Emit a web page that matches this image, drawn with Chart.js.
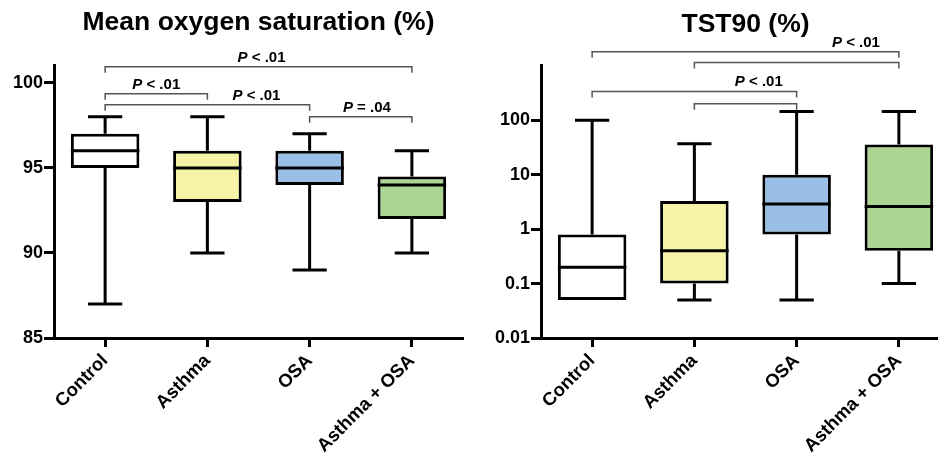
<!DOCTYPE html>
<html>
<head>
<meta charset="utf-8">
<script src="https://cdn.jsdelivr.net/npm/chart.js@4.4.1/dist/chart.umd.min.js"></script>
<style>
  html, body { margin: 0; padding: 0; background: #fff; overflow: hidden; width: 938px; height: 464px; }
  #painelEsq { position: absolute; left: 0; top: 0; width: 470px; height: 464px; }
  #painelDir { position: absolute; left: 470px; top: 0; width: 490px; height: 464px; }
</style>
</head>
<body>
<div id="painelEsq"><canvas id="graficoSaturacao"></canvas></div>
<div id="painelDir"><canvas id="graficoTst90"></canvas></div>
<script>
// ---------- DADOS ----------

var grupos = ["Control", "Asthma", "OSA", "Asthma + OSA"];

// saturação média (%)
var satMin = [87, 90, 89, 90];
var satQ1 = [95, 93, 94, 92];
var satMediana = [96, 95, 95, 94];
var satQ3 = [97, 96, 96, 94.5];
var satMax = [98, 98, 97, 96];
var satTicks = [85, 90, 95, 100];

// comparações (colchetes) do painel da esquerda
var satCompDe = [0, 0, 0, 2];
var satCompAte = [3, 1, 2, 3];
var satCompNivel = [100.95, 99.36, 98.71, 98.0];
var satCompTexto = ["< .01", "< .01", "< .01", "= .04"];

// TST90 (%)
var tstMin = [0.05, 0.05, 0.05, 0.1];
var tstQ1 = [0.05, 0.1, 0.8, 0.4];
var tstMediana = [0.2, 0.4, 2.9, 2.6];
var tstQ3 = [0.8, 3.3, 10, 36];
var tstMax = [100, 37, 144, 144];
var tstTicks = [0.01, 0.1, 1, 10, 100];

var tstCompDe = [0, 1, 0, 1];
var tstCompAte = [3, 3, 2, 2];
var tstCompNivel = [1820, 1150, 338, 200];
var tstCompTexto = ["< .01", "", "< .01", ""];

// ---------- ESTILO ----------

var FONTE = "'Liberation Sans', Arial, sans-serif";
var coresCaixa = ["#ffffff", "#f6f3a6", "#9abfe6", "#abd792"];
// posição horizontal do texto P (em unidades de categoria)
var satTextoX = [1.53, 0.5, 1.48, 2.56];
var tstTextoX = [2.58, 0, 1.63, 0];

Chart.defaults.font.family = FONTE;
Chart.defaults.color = "#000";

// ---------- PLUGIN DE BOXPLOT ----------

function criarPluginCaixas(mins, q1s, medianas, q3s, maxs, compDe, compAte, compNivel, compTexto, textoX) {
  return {
    id: "caixas",
    afterDatasetsDraw: function (chart) {
      var ctx = chart.ctx;
      var escalaX = chart.scales.x;
      var escalaY = chart.scales.y;
      var meta = chart.getDatasetMeta(0);

      ctx.save();
      ctx.strokeStyle = "#000";
      ctx.lineWidth = 3;
      ctx.lineCap = "butt";

      for (var i = 0; i < mins.length; i++) {
        var barra = meta.data[i];
        var x = barra.x;
        var largura = barra.width;
        var topo = Math.min(barra.y, barra.base);
        var fundo = Math.max(barra.y, barra.base);
        var yMin = escalaY.getPixelForValue(mins[i]);
        var yMax = escalaY.getPixelForValue(maxs[i]);
        var yMed = escalaY.getPixelForValue(medianas[i]);

        ctx.beginPath();
        if (maxs[i] > q3s[i]) {
          ctx.moveTo(x, topo);
          ctx.lineTo(x, yMax);
          ctx.moveTo(x - largura / 4, yMax);
          ctx.lineTo(x + largura / 4, yMax);
        }
        if (mins[i] < q1s[i]) {
          ctx.moveTo(x, fundo);
          ctx.lineTo(x, yMin);
          ctx.moveTo(x - largura / 4, yMin);
          ctx.lineTo(x + largura / 4, yMin);
        }
        ctx.moveTo(x - largura / 2, yMed);
        ctx.lineTo(x + largura / 2, yMed);
        ctx.stroke();
      }

      // colchetes de significância
      ctx.strokeStyle = "#555";
      ctx.lineWidth = 1.5;
      for (var j = 0; j < compDe.length; j++) {
        var x1 = escalaX.getPixelForValue(compDe[j]);
        var x2 = escalaX.getPixelForValue(compAte[j]);
        var y = escalaY.getPixelForValue(compNivel[j]);

        ctx.beginPath();
        ctx.moveTo(x1, y + 6);
        ctx.lineTo(x1, y);
        ctx.lineTo(x2, y);
        ctx.lineTo(x2, y + 6);
        ctx.stroke();

        if (compTexto[j]) {
          var xc = escalaX.getPixelForValue(0) +
            textoX[j] * (escalaX.getPixelForValue(1) - escalaX.getPixelForValue(0));
          ctx.fillStyle = "#000";
          ctx.textBaseline = "alphabetic";
          ctx.font = "italic bold 15px " + FONTE;
          var larguraP = ctx.measureText("P").width;
          ctx.font = "bold 15px " + FONTE;
          var resto = " " + compTexto[j];
          var larguraResto = ctx.measureText(resto).width;
          var inicio = xc - (larguraP + larguraResto) / 2;
          var yTexto = y - 5;
          ctx.font = "italic bold 15px " + FONTE;
          ctx.textAlign = "left";
          ctx.fillText("P", inicio, yTexto);
          ctx.font = "bold 15px " + FONTE;
          ctx.fillText(resto, inicio + larguraP, yTexto);
        }
      }
      ctx.restore();
    },
  };
}

function montarEscalaX() {
  return {
    grid: { offset: false, drawOnChartArea: false, drawTicks: true, tickLength: 9, tickWidth: 3, tickColor: "#000" },
    border: { display: true, width: 3, color: "#000" },
    ticks: {
      color: "#000",
      font: { size: 18.5, weight: "bold" },
      maxRotation: 45,
      minRotation: 45,
      padding: 3,
    },
    afterFit: function (escala) {
      escala.height = 126;
    },
  };
}

function montarGrafico(idCanvas, titulo, q1s, q3s, escalaY, plugin, paddingDireita, paddingTitulo) {
  var caixas = [];
  for (var i = 0; i < q1s.length; i++) {
    caixas.push([q1s[i], q3s[i]]);
  }

  return new Chart(document.getElementById(idCanvas), {
    type: "bar",
    data: {
      labels: grupos,
      datasets: [
        {
          data: caixas,
          backgroundColor: coresCaixa,
          borderColor: "#000",
          borderWidth: 3,
          borderSkipped: false,
          categoryPercentage: 1,
          barPercentage: 0.67,
        },
      ],
    },
    options: {
      responsive: true,
      maintainAspectRatio: false,
      animation: false,
      layout: { padding: { left: 0, right: paddingDireita, top: 0, bottom: 0 } },
      plugins: {
        legend: { display: false },
        tooltip: { enabled: false },
        title: {
          display: true,
          text: titulo,
          color: "#000",
          fullSize: false,
          font: { size: 26.5, weight: "bold" },
          padding: paddingTitulo,
        },
      },
      scales: {
        x: montarEscalaX(),
        y: escalaY,
      },
    },
    plugins: [plugin],
  });
}

// ---------- INICIALIZAÇÃO ----------

montarGrafico(
  "graficoSaturacao",
  "Mean oxygen saturation (%)",
  satQ1,
  satQ3,
  {
    min: 85,
    max: 101,
    afterBuildTicks: function (escala) {
      escala.ticks = satTicks.map(function (v) { return { value: v }; });
    },
    grid: { drawOnChartArea: false, drawTicks: true, tickLength: 10, tickWidth: 3, tickColor: "#000" },
    border: { display: true, width: 3, color: "#000" },
    ticks: { color: "#000", font: { size: 18, weight: "bold" }, padding: 1 },
    afterFit: function (escala) {
      escala.width = 54;
    },
  },
  criarPluginCaixas(satMin, satQ1, satMediana, satQ3, satMax, satCompDe, satCompAte, satCompNivel, satCompTexto, satTextoX),
  7,
  { top: 7, bottom: 27 }
);

montarGrafico(
  "graficoTst90",
  "TST90 (%)",
  tstQ1,
  tstQ3,
  {
    type: "logarithmic",
    min: 0.01,
    max: 1000,
    afterBuildTicks: function (escala) {
      escala.ticks = tstTicks.map(function (v) { return { value: v }; });
    },
    grid: { drawOnChartArea: false, drawTicks: true, tickLength: 10, tickWidth: 3, tickColor: "#000" },
    border: { display: true, width: 3, color: "#000" },
    ticks: {
      color: "#000",
      font: { size: 18, weight: "bold" },
      padding: 1,
      callback: function (valor) {
        return String(valor);
      },
    },
    afterFit: function (escala) {
      escala.width = 71;
    },
  },
  criarPluginCaixas(tstMin, tstQ1, tstMediana, tstQ3, tstMax, tstCompDe, tstCompAte, tstCompNivel, tstCompTexto, tstTextoX),
  10,
  { top: 9, bottom: 25 }
);
</script>
</body>
</html>
